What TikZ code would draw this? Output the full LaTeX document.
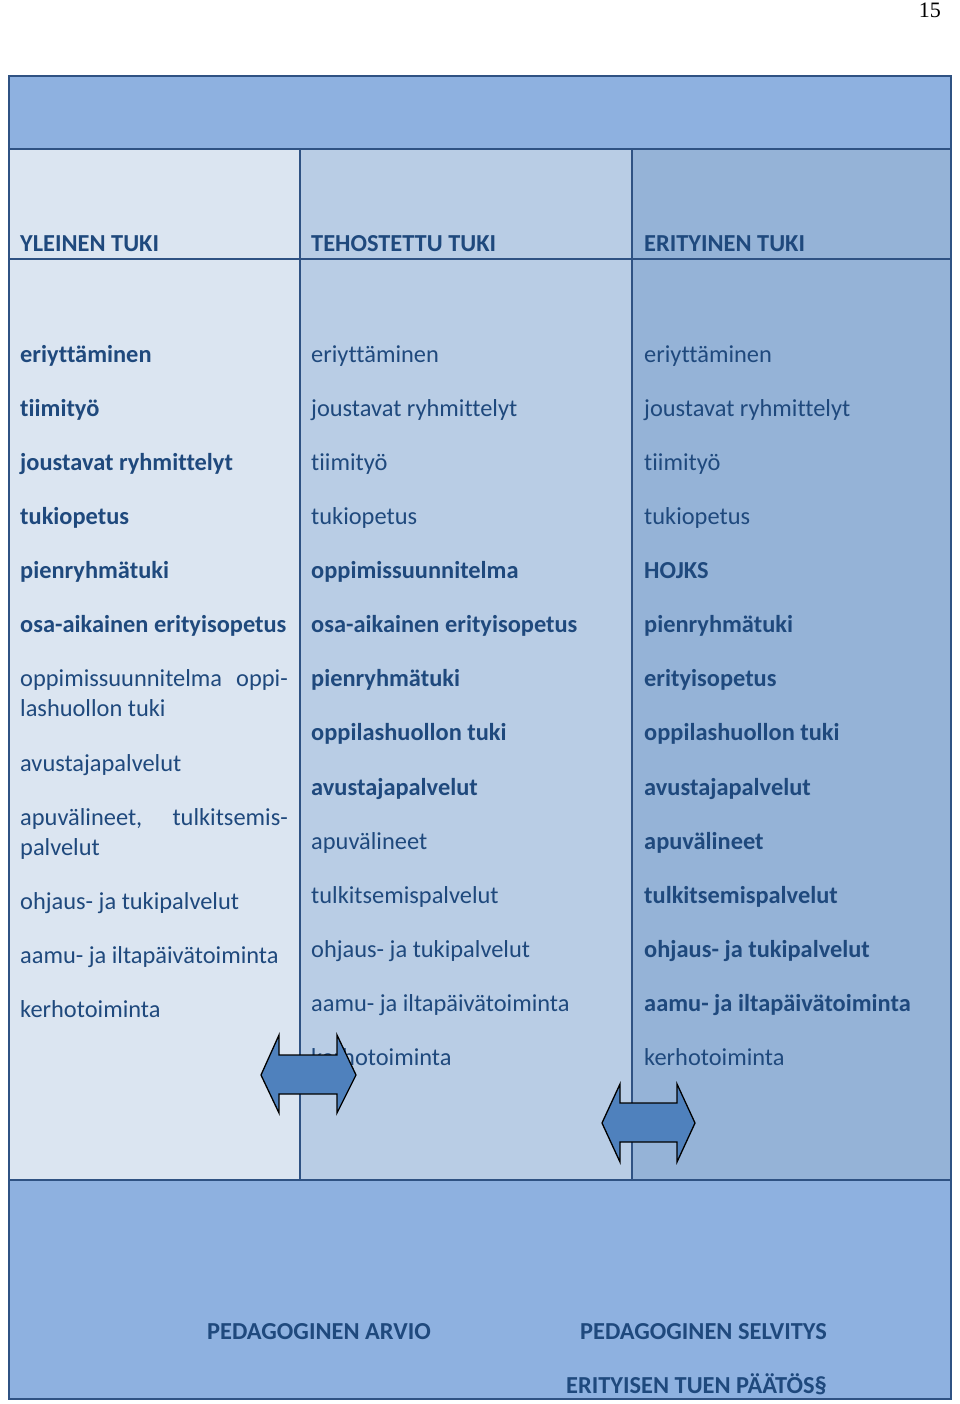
\documentclass[tikz,border=0pt]{standalone}
\usepackage{fontspec}
\setmainfont{Carlito}[RawFeature={-liga;-clig;-calt;-dlig}]
\newfontfamily\pnfont{Liberation Serif}
\definecolor{topband}{HTML}{8EB1E0}
\definecolor{colA}{HTML}{DBE5F1}
\definecolor{colB}{HTML}{B9CDE5}
\definecolor{colC}{HTML}{95B3D7}
\definecolor{edge}{HTML}{2F5283}
\definecolor{txt}{HTML}{1F497D}
\definecolor{arrowfill}{HTML}{4F81BD}
\tikzset{
  it/.style={anchor=base west, inner sep=0pt, text=txt, font=\fontsize{24.4}{29}\selectfont},
  itb/.style={it, font=\fontsize{24.4}{29}\selectfont\bfseries},
  itr/.style={it, anchor=base east},
  hd/.style={itb},
  cell/.style={draw=edge, line width=1.5pt},
  dblarrow/.style={draw=black, line width=1.3pt, fill=arrowfill, line join=miter}
}
\begin{document}
\begin{tikzpicture}[x=1pt,y=-1pt]
\useasboundingbox (0,0) rectangle (960,1404);
% page number
\node[anchor=base east, inner sep=0pt, font=\pnfont\fontsize{22}{26}\selectfont] (pn) at (941,18) {15};
% backgrounds
\fill[topband] (9,76) rectangle (951,149);
\fill[colA] (9,149) rectangle (300,1180);
\fill[colB] (300,149) rectangle (632,1180);
\fill[colC] (632,149) rectangle (951,1180);
\fill[topband] (9,1180) rectangle (951,1399);
% lines
\draw[cell] (9,149) -- (951,149);
\draw[cell] (9,259) -- (951,259);
\draw[cell] (9,1180) -- (951,1180);
\draw[cell] (300,149) -- (300,1180);
\draw[cell] (632,149) -- (632,1180);
\draw[cell] (9,76) rectangle (951,1399);
% headers
\node[hd] (h1) at (20,252) {YLEINEN TUKI};
\node[hd] (h2) at (311,252) {TEHOSTETTU TUKI};
\node[hd] (h3) at (644,252) {ERITYINEN TUKI};
% column 1
\node[itb] (a1) at (20,362) {eriyttäminen};
\node[itb] (a2) at (20,416) {tiimityö};
\node[itb] (a3) at (20,470) {joustavat ryhmittelyt};
\node[itb] (a4) at (20,524) {tukiopetus};
\node[itb] (a5) at (20,578) {pienryhmätuki};
\node[itb] (a6) at (20,632) {osa-aikainen erityisopetus};
\node[it] (a7) at (20,686) {oppimissuunnitelma};
\node[itr] (a7b) at (288,686) {oppi-};
\node[it] (a7c) at (20,716) {lashuollon tuki};
\node[it] (a8) at (20,771) {avustajapalvelut};
\node[it] (a9) at (20,825) {apuvälineet,};
\node[itr] (a9b) at (288,825) {tulkitsemis-};
\node[it] (a9c) at (20,855) {palvelut};
\node[it] (a10) at (20,909) {ohjaus- ja tukipalvelut};
\node[it] (a11) at (20,963) {aamu- ja iltapäivätoiminta};
\node[it] (a12) at (20,1017) {kerhotoiminta};
% column 2
\node[it] (b1) at (311,362) {eriyttäminen};
\node[it] (b2) at (311,416) {joustavat ryhmittelyt};
\node[it] (b3) at (311,470) {tiimityö};
\node[it] (b4) at (311,524) {tukiopetus};
\node[itb] (b5) at (311,578) {oppimissuunnitelma};
\node[itb] (b6) at (311,632) {osa-aikainen erityisopetus};
\node[itb] (b7) at (311,686) {pienryhmätuki};
\node[itb] (b8) at (311,740) {oppilashuollon tuki};
\node[itb] (b9) at (311,795) {avustajapalvelut};
\node[it] (b10) at (311,849) {apuvälineet};
\node[it] (b11) at (311,903) {tulkitsemispalvelut};
\node[it] (b12) at (311,957) {ohjaus- ja tukipalvelut};
\node[it] (b13) at (311,1011) {aamu- ja iltapäivätoiminta};
\node[it] (b14) at (311,1065) {kerhotoiminta};
% column 3
\node[it] (c1) at (644,362) {eriyttäminen};
\node[it] (c2) at (644,416) {joustavat ryhmittelyt};
\node[it] (c3) at (644,470) {tiimityö};
\node[it] (c4) at (644,524) {tukiopetus};
\node[itb] (c5) at (644,578) {HOJKS};
\node[itb] (c6) at (644,632) {pienryhmätuki};
\node[itb] (c7) at (644,686) {erityisopetus};
\node[itb] (c8) at (644,740) {oppilashuollon tuki};
\node[itb] (c9) at (644,795) {avustajapalvelut};
\node[itb] (c10) at (644,849) {apuvälineet};
\node[itb] (c11) at (644,903) {tulkitsemispalvelut};
\node[itb] (c12) at (644,957) {ohjaus- ja tukipalvelut};
\node[itb] (c13) at (644,1011) {aamu- ja iltapäivätoiminta};
\node[it] (c14) at (644,1065) {kerhotoiminta};
% bottom labels
\node[itb, anchor=base] (p1) at (319,1339) {PEDAGOGINEN ARVIO};
\node[itb] (p2) at (580,1339) {PEDAGOGINEN SELVITYS};
\node[itb] (p3) at (566,1393) {ERITYISEN TUEN PÄÄTÖS§};
% double arrows
\draw[dblarrow] (279,1055) -- (279,1035) -- (261,1075) -- (279,1113) -- (279,1094)
  -- (337,1094) -- (337,1113) -- (356,1075) -- (337,1035) -- (337,1055) -- cycle;
\draw[dblarrow] (620,1103) -- (620,1084) -- (602,1123) -- (620,1162) -- (620,1142)
  -- (677,1142) -- (677,1162) -- (695,1123) -- (677,1084) -- (677,1103) -- cycle;
\end{tikzpicture}
\end{document}
